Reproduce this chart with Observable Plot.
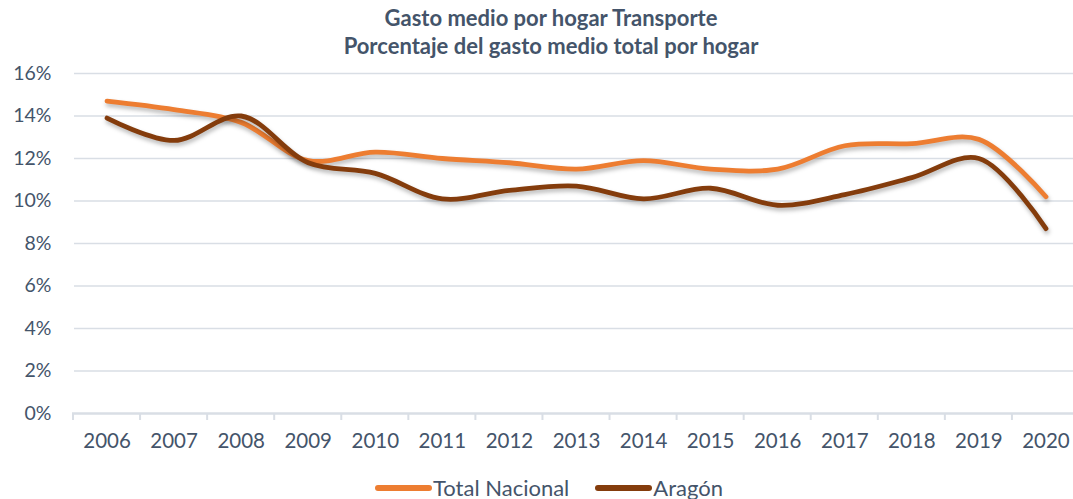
<!DOCTYPE html>
<html>
<head>
<meta charset="utf-8">
<script src="https://cdn.jsdelivr.net/npm/d3@7"></script>
<script src="https://cdn.jsdelivr.net/npm/@observablehq/plot@0.6"></script>
<style>
  html, body { margin: 0; padding: 0; background: #fff; }
  body { width: 1073px; height: 499px; position: relative; overflow: hidden; font-family: Lato, "Open Sans", sans-serif; color: #44546A; }
  #title { position: absolute; left: 0; top: 4px; width: 1102px; text-align: center; font-weight: bold; font-size: 22px; line-height: 28px; }
  #chart { position: absolute; left: 0; top: 62px; }
  #legend { position: absolute; top: 475px; left: 375px; display: flex; align-items: center; font-size: 22px; line-height: 26px; white-space: nowrap; }
  .sw { display: inline-block; width: 57px; height: 6px; border-radius: 3px; margin-right: 1px; }
  .item { display: flex; align-items: center; margin-right: 26px; }
  .shadowline path { filter: drop-shadow(1px 3px 2px rgba(0,0,0,0.28)); }
</style>
</head>
<body>
<div id="title">Gasto medio por hogar Transporte<br>Porcentaje del gasto medio total por hogar</div>
<div id="chart"></div>
<div id="legend"></div>
<script>
const years = [2006, 2007, 2008, 2009, 2010, 2011, 2012, 2013, 2014, 2015, 2016, 2017, 2018, 2019, 2020];
const totalNacional = [14.7, 14.3, 13.7, 11.9, 12.3, 12.0, 11.8, 11.5, 11.9, 11.5, 11.5, 12.6, 12.7, 12.9, 10.2];
const aragon = [13.9, 12.85, 14.0, 11.8, 11.3, 10.1, 10.5, 10.7, 10.1, 10.6, 9.8, 10.3, 11.1, 12.0, 8.7];
const seriesNames = ["Total Nacional", "Aragón"];
const seriesColors = ["#ED7D31", "#843C0C"];
const yTicks = [0, 2, 4, 6, 8, 10, 12, 14, 16];

const rows = [];
years.forEach((y, i) => {
  rows.push({year: y, value: totalNacional[i], series: seriesNames[0]});
  rows.push({year: y, value: aragon[i], series: seriesNames[1]});
});
const boundaries = years.map(y => y - 0.5).concat([years[years.length - 1] + 0.5]);

const textColor = "#44546A";
const gridColor = "#D9DEE5";

const chart = Plot.plot({
  width: 1073,
  height: 400,
  marginLeft: 73,
  marginRight: 0,
  marginTop: 11,
  marginBottom: 49,
  style: {fontFamily: "Lato, 'Open Sans', sans-serif", color: textColor, background: "transparent"},
  x: {type: "linear", domain: [2005.5, 2020.5], range: [73, 1079]},
  y: {type: "linear", domain: [0, 16], range: [351, 11]},
  color: {domain: seriesNames, range: seriesColors},
  marks: [
    Plot.gridY(yTicks.slice(1), {stroke: gridColor, strokeOpacity: 1, strokeWidth: 1.5, insetLeft: 1}),
    Plot.ruleY([0], {stroke: gridColor, strokeWidth: 2.5, insetLeft: -1}),
    Plot.axisY(yTicks, {tickSize: 0, tickPadding: 22, fontSize: 19.5, fill: textColor, tickFormat: d => d + "%", label: null}),
    Plot.axisX(years, {tickSize: 0, tickPadding: 20, fontSize: 20.5, fill: textColor, tickFormat: d => String(d), label: null}),
    Plot.line(rows, {x: "year", y: "value", z: "series", stroke: "series", strokeWidth: 4.8, curve: "catmull-rom", strokeLinecap: "round", strokeLinejoin: "round", className: "shadowline"})
  ]
});
document.getElementById("chart").appendChild(chart);

// category-boundary tick marks below the axis, positioned with the plot's own x scale
const xScale = chart.scale("x");
const yScale = chart.scale("y");
const y0 = yScale.apply(0);
d3.select(chart).append("g").selectAll("line").data(boundaries).join("line")
  .attr("x1", d => xScale.apply(d)).attr("x2", d => xScale.apply(d))
  .attr("y1", y0).attr("y2", y0 + 7)
  .attr("stroke", gridColor).attr("stroke-width", 2);

const legend = d3.select("#legend");
seriesNames.forEach((n, i) => {
  const it = legend.append("div").attr("class", "item");
  it.append("span").attr("class", "sw").style("background", seriesColors[i]);
  it.append("span").text(n);
});
</script>
</body>
</html>
